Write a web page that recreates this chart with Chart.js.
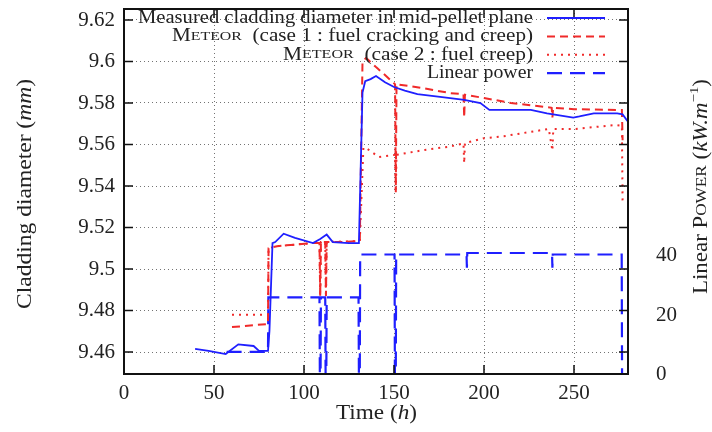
<!DOCTYPE html>
<html>
<head>
<meta charset="utf-8">
<script src="https://cdn.jsdelivr.net/npm/chart.js@4.4.1/dist/chart.umd.min.js"></script>
<style>
  body { margin: 0; background: #fff; }
  canvas { display: block; }
</style>
</head>
<body>
<canvas id="chart" width="712" height="432"></canvas>
<script>
// measured cladding diameter (mm) vs time (h)
const measT = [39.5, 47, 56.5, 63.5, 72, 75, 80, 80.8, 82.5, 84, 88.7, 95, 105, 109, 112.6, 116, 125, 130.5, 132.5, 134, 137, 140, 145, 150, 156, 163, 175.6, 189, 198, 203, 226, 235, 249.6, 253, 261, 274, 277, 280]
const measD = [9.4615, 9.4605, 9.459, 9.4637, 9.4629, 9.4605, 9.4605, 9.47, 9.5125, 9.513, 9.517, 9.515, 9.5125, 9.5145, 9.5166, 9.513, 9.5125, 9.5125, 9.585, 9.5905, 9.5915, 9.593, 9.590, 9.5877, 9.586, 9.5843, 9.5829, 9.5815, 9.580, 9.5767, 9.5767, 9.575, 9.573, 9.5735, 9.575, 9.575, 9.5745, 9.571]

// METEOR case 1 : fuel cracking and creep
const case1T = [60, 80, 80.3, 85, 105, 108.6, 109, 109.4, 111.8, 112.2, 112.6, 120, 131, 132.5, 134.5, 140, 145, 150.6, 151, 151.4, 160, 167, 181, 188.6, 189, 189.4, 200, 215, 237.6, 238, 238.4, 250, 276.6, 277]
const case1D = [9.472, 9.4735, 9.510, 9.511, 9.5125, 9.5125, 9.487, 9.513, 9.513, 9.487, 9.513, 9.513, 9.5135, 9.600, 9.6017, 9.5973, 9.5935, 9.589, 9.537, 9.589, 9.588, 9.587, 9.5848, 9.5842, 9.573, 9.584, 9.5824, 9.58, 9.5777, 9.573, 9.5777, 9.577, 9.5766, 9.562]

// METEOR case 2 : fuel creep
const case2T = [60, 80, 80.3, 85, 105, 108.6, 109, 109.4, 111.8, 112.2, 112.6, 131, 133, 135, 141.5, 150.6, 151, 151.4, 167, 181, 188.6, 189, 189.4, 200, 211, 236, 238, 238.5, 251, 273, 276.6, 277]
const case2D = [9.478, 9.478, 9.510, 9.511, 9.5125, 9.5125, 9.487, 9.513, 9.513, 9.487, 9.513, 9.5135, 9.5585, 9.558, 9.554, 9.555, 9.537, 9.555, 9.5574, 9.559, 9.5605, 9.551, 9.5607, 9.563, 9.564, 9.5675, 9.557, 9.5675, 9.5675, 9.5694, 9.569, 9.531]

// linear power (kW/m), right axis
const powT = [57, 80, 80.2, 108.6, 108.8, 109.2, 109.4, 111.8, 112, 112.4, 112.6, 130.3, 130.5, 131, 131.2, 150.3, 150.5, 151, 151.2, 190.3, 190.5, 190.7, 237.8, 238, 238.2, 276.5, 276.7]
const powP = [7.5, 7.5, 26, 26, 0, 0, 26, 26, 0, 0, 26, 26, 0, 0, 40.5, 40.5, 0, 0, 40.5, 40.5, 36, 41, 41, 36, 40.5, 40.5, 0]

const xTicks = [0, 50, 100, 150, 200, 250]
const yTicks = [9.46, 9.48, 9.5, 9.52, 9.54, 9.56, 9.58, 9.6, 9.62]
const y2Ticks = [0, 20, 40]

const BLUE = '#1f1fff'
const RED = '#f02a2a'
const SERIF = '"Liberation Serif", "DejaVu Serif", serif'

const pts = (xs, ys) => xs.map((x, i) => ({ x: x, y: ys[i] }))

// draws a run of text pieces (for small caps, italics, superscripts),
// stretched sideways to the width the LaTeX font takes in the original
function richWidth(ctx, parts) {
    let w = 0
    parts.forEach(p => { ctx.font = (p.it ? 'italic ' : '') + p.s + 'px ' + SERIF; w += ctx.measureText(p.t).width })
    return w
}
function drawRich(ctx, parts, x, y, w) {
    const k = w / richWidth(ctx, parts)
    ctx.save()
    ctx.translate(x, y)
    ctx.scale(k, 1)
    let cx = 0
    parts.forEach(p => {
        ctx.font = (p.it ? 'italic ' : '') + p.s + 'px ' + SERIF
        ctx.fillText(p.t, cx, p.dy || 0)
        cx += ctx.measureText(p.t).width
    })
    ctx.restore()
}

const FS = 18, SC = 13.5
const legendRows = [
    { parts: [{ t: 'Measured cladding diameter in mid-pellet plane', s: FS }], left: 138, color: BLUE, dash: [], width: 1.8 },
    { parts: [{ t: 'M', s: FS }, { t: 'ETEOR', s: SC }, { t: '  (case 1 : fuel cracking and creep)', s: FS }], left: 172, color: RED, dash: [8, 5], width: 2 },
    { parts: [{ t: 'M', s: FS }, { t: 'ETEOR', s: SC }, { t: '  (case 2 : fuel creep)', s: FS }], left: 283, color: RED, dash: [2, 5], width: 2 },
    { parts: [{ t: 'Linear power', s: FS }], left: 427, color: BLUE, dash: [15, 8], width: 2.2 }
]

const decor = {
    id: 'decor',
    afterDraw(chart) {
        const ctx = chart.ctx
        const a = chart.chartArea
        const sx = chart.scales.x, sy = chart.scales.y
        ctx.save()
        ctx.strokeStyle = '#111'
        ctx.lineWidth = 1.5
        ctx.setLineDash([])
        // inward ticks, mirrored like gnuplot
        ctx.beginPath()
        yTicks.forEach(v => {
            const p = sy.getPixelForValue(v)
            ctx.moveTo(a.left, p); ctx.lineTo(a.left + 9, p)
            ctx.moveTo(a.right, p); ctx.lineTo(a.right - 9, p)
        })
        xTicks.forEach(v => {
            const p = sx.getPixelForValue(v)
            ctx.moveTo(p, a.bottom); ctx.lineTo(p, a.bottom - 9)
            ctx.moveTo(p, a.top); ctx.lineTo(p, a.top + 9)
        })
        ctx.stroke()
        ctx.lineWidth = 2
        ctx.strokeRect(a.left, a.top, a.right - a.left, a.bottom - a.top)

        ctx.fillStyle = '#222'
        ctx.textBaseline = 'middle'
        // legend, text right aligned with the sample on the right
        legendRows.forEach((r, i) => {
            const y = 18 + i * 18.4
            drawRich(ctx, r.parts, r.left, y, 533 - r.left)
            ctx.beginPath()
            ctx.strokeStyle = r.color
            ctx.lineWidth = r.width
            ctx.setLineDash(r.dash)
            ctx.moveTo(547, y); ctx.lineTo(605, y)
            ctx.stroke()
        })
        ctx.setLineDash([])

        // axis titles
        const TS = 20
        const xt = [{ t: 'Time (', s: TS }, { t: 'h', s: TS, it: true }, { t: ')', s: TS }]
        drawRich(ctx, xt, 336, 414, 81)

        const yt = [{ t: 'Cladding diameter (', s: TS }, { t: 'mm', s: TS, it: true }, { t: ')', s: TS }]
        ctx.save()
        ctx.translate(26, 194)
        ctx.rotate(-Math.PI / 2)
        drawRich(ctx, yt, -115, 0, 230)
        ctx.restore()

        const y2t = [{ t: 'Linear P', s: TS }, { t: 'OWER', s: 15 }, { t: ' (', s: TS }, { t: 'kW.m', s: TS, it: true },
            { t: '\u22121', s: 13, dy: -7 }, { t: ')', s: TS }]
        ctx.save()
        ctx.translate(702, 186)
        ctx.rotate(-Math.PI / 2)
        drawRich(ctx, y2t, -108, 0, 215)
        ctx.restore()
        ctx.restore()
    }
}

const tickFont = { family: SERIF, size: 21 }
const gridStyle = { color: 'rgba(0,0,0,0.55)', lineWidth: 1, drawTicks: false }
const noPad = s => { s.paddingTop = 0; s.paddingBottom = 0; s.paddingLeft = 0; s.paddingRight = 0 }

new Chart(document.getElementById('chart'), {
    type: 'line',
    data: {
        datasets: [
            { label: 'Measured', data: pts(measT, measD), yAxisID: 'y', borderColor: BLUE, borderWidth: 1.8, order: 1 },
            { label: 'case 1', data: pts(case1T, case1D), yAxisID: 'y', borderColor: RED, borderWidth: 2, borderDash: [8, 5], order: 2 },
            { label: 'case 2', data: pts(case2T, case2D), yAxisID: 'y', borderColor: RED, borderWidth: 2, borderDash: [2, 5], order: 3 },
            { label: 'Linear power', data: pts(powT, powP), yAxisID: 'y2', borderColor: BLUE, borderWidth: 2.2, borderDash: [15, 8], order: 4 }
        ]
    },
    options: {
        responsive: false,
        animation: false,
        layout: { padding: { top: 9 } },
        elements: { point: { radius: 0 }, line: { tension: 0, fill: false } },
        plugins: { legend: { display: false }, tooltip: { enabled: false } },
        scales: {
            x: {
                type: 'linear', min: 0, max: 280,
                afterBuildTicks: s => { s.ticks = xTicks.map(v => ({ value: v })) },
                afterFit: s => { s.height = 58; noPad(s) },
                ticks: { font: tickFont, color: '#222', padding: 7, maxRotation: 0 },
                grid: gridStyle,
                border: { display: false, dash: [1, 3] }
            },
            y: {
                position: 'left', min: 9.4494, max: 9.6253,
                afterBuildTicks: s => { s.ticks = yTicks.map(v => ({ value: v })) },
                afterFit: s => { s.width = 124; noPad(s) },
                ticks: { font: tickFont, color: '#222', padding: 9, callback: v => String(+v.toFixed(2)) },
                grid: gridStyle,
                border: { display: false, dash: [1, 3] }
            },
            y2: {
                position: 'right', min: 0, max: 123.7,
                afterBuildTicks: s => { s.ticks = y2Ticks.map(v => ({ value: v })) },
                afterFit: s => { s.width = 84; noPad(s) },
                ticks: { font: tickFont, color: '#222', padding: 20 },
                grid: { display: false },
                border: { display: false }
            }
        }
    },
    plugins: [decor]
})
</script>
</body>
</html>
